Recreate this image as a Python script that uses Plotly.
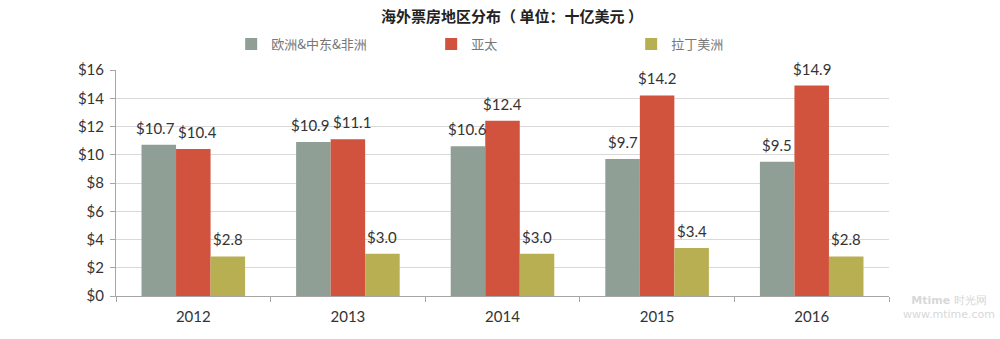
import plotly.graph_objects as go

years = ["2012", "2013", "2014", "2015", "2016"]
emea = [10.7, 10.9, 10.6, 9.7, 9.5]
apac = [10.4, 11.1, 12.4, 14.2, 14.9]
latam = [2.8, 3.0, 3.0, 3.4, 2.8]
series_names = ["欧洲&中东&非洲", "亚太", "拉丁美洲"]
colors = ["#909F96", "#D1533E", "#B8AF52"]
all_series = [emea, apac, latam]

W, H = 1000, 339
ML, MR, MT, MB = 116, 111, 70, 43
YMAX = 16
BARGAP = 0.33
plot_w = W - ML - MR
plot_h = H - MT - MB
cat_w = plot_w / len(years)
bar_w = cat_w * (1 - BARGAP) / len(all_series)
px_per_unit = plot_h / YMAX
LABEL_W = 42  # approx min centre distance for neighbouring labels

fig = go.Figure()
for name, vals, c in zip(series_names, all_series, colors):
    fig.add_trace(go.Bar(
        x=years, y=vals, name=name, marker=dict(color=c, line=dict(width=0)),
    ))

# value labels, nudged apart horizontally where they would collide
label_font = dict(family="Lato, Open Sans, sans-serif", size=15, color="#333333")
for j, yr in enumerate(years):
    offs = [(i - 1) * bar_w for i in range(len(all_series))]
    for i in range(len(all_series) - 1):
        a, b = all_series[i][j], all_series[i + 1][j]
        if abs(a - b) * px_per_unit < 16 and (offs[i + 1] - offs[i]) < LABEL_W:
            push = (LABEL_W - (offs[i + 1] - offs[i])) / 2
            offs[i] -= push
            offs[i + 1] += push
    for i, vals in enumerate(all_series):
        fig.add_annotation(x=j, y=vals[j], xref="x", yref="y", text=f"${vals[j]:.1f}",
                           showarrow=False, xshift=offs[i], yshift=17, yanchor="middle",
                           font=label_font)

fig.update_layout(
    width=W, height=H,
    margin=dict(l=ML, r=MR, t=MT, b=MB),
    paper_bgcolor="white", plot_bgcolor="white",
    barmode="group", bargap=BARGAP, bargroupgap=0,
    title=dict(text="<b>海外票房地区分布（ 单位：十亿美元 ）</b>", x=0.512, xanchor="center", y=0.95, yanchor="middle",
               font=dict(family="Noto Sans CJK SC", size=15, color="#222222")),
    legend=dict(orientation="h", x=0.149, xanchor="left", y=1.115, yanchor="middle",
                entrywidth=155, entrywidthmode="pixels",
                font=dict(family="Noto Sans CJK SC", size=13, color="#777777"),
                itemsizing="constant", bgcolor="rgba(0,0,0,0)"),
    showlegend=True,
)
fig.update_yaxes(range=[0, YMAX], dtick=2, tickprefix="$", showgrid=True, gridcolor="#D9D9D9", gridwidth=1,
                 showline=True, linecolor="#A6A6A6", linewidth=1, ticks="outside", ticklen=5, tickcolor="#A6A6A6",
                 ticklabelstandoff=3,
                 tickfont=dict(family="Lato, Open Sans, sans-serif", size=15, color="#333333"), zeroline=False)
fig.update_xaxes(type="category", showline=True, linecolor="#A6A6A6", linewidth=1, ticks="outside", ticklen=5,
                 tickcolor="#A6A6A6", tickson="boundaries", showgrid=False, tickangle=0, ticklabelstandoff=7,
                 tickfont=dict(family="Lato, Open Sans, sans-serif", size=15, color="#333333"))

fig.add_annotation(text="<b>Mtime</b> 时光网<br>www.mtime.com", xref="paper", yref="paper", x=1.14, y=-0.12,
                   xanchor="right", yanchor="bottom", showarrow=False, align="center",
                   font=dict(family="DejaVu Sans", size=11, color="#D8D8D8"))

fig.write_html("out.html")
